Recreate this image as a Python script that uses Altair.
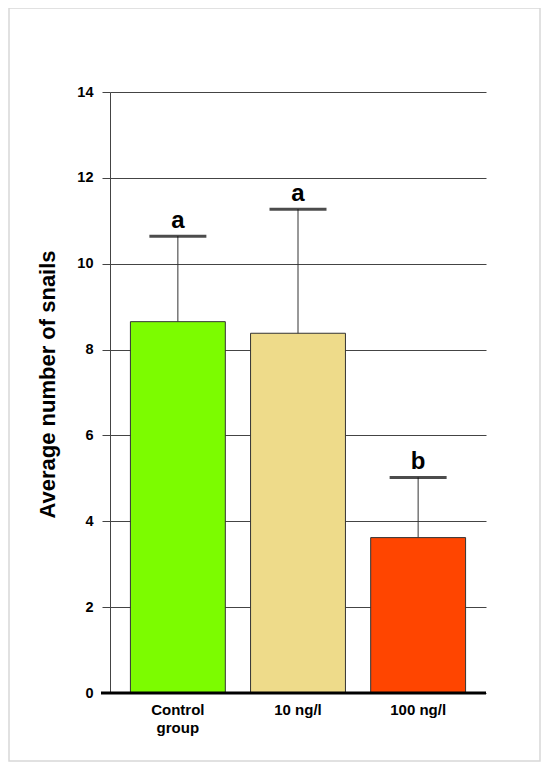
import altair as alt
import pandas as pd

categories = ["Control\ngroup", "10 ng/l", "100 ng/l"]
means = [8.65, 8.38, 3.62]
uppers = [10.64, 11.27, 5.02]
letters = ["a", "a", "b"]
colors = ["#7CFC00", "#EEDB8A", "#FF4500"]

df = pd.DataFrame({"group": categories, "mean": means, "upper": uppers, "letter": letters})

W, H = 376, 601
FONT = "Liberation Sans"

x = alt.X("group:N", sort=categories, title=None,
          scale=alt.Scale(paddingInner=0.21, paddingOuter=0.17),
          axis=alt.Axis(domain=False, ticks=False, labelAngle=0,
                        labelFont=FONT, labelFontSize=15, labelFontWeight="bold",
                        labelColor="black", labelPadding=9, labelLineHeight=18,
                        labelExpr="split(datum.label, '\\n')"))

y_scale = alt.Scale(domain=[0, 14], nice=False)

base = alt.Chart(df)

bars = base.mark_bar(stroke="#333333", strokeWidth=1).encode(
    x=x,
    y=alt.Y("mean:Q", scale=y_scale, title="Average number of snails",
            axis=alt.Axis(values=[0, 2, 4, 6, 8, 10, 12, 14], format="d",
                          grid=True, gridColor="#444444", gridWidth=1,
                          domainColor="#444444", domainWidth=1,
                          tickColor="#444444", tickSize=8, tickWidth=1,
                          labelFont=FONT, labelFontSize=14.5, labelFontWeight="bold",
                          labelColor="black", labelPadding=9,
                          titleFont=FONT, titleFontSize=22, titleFontWeight="bold",
                          titleColor="black", titleX=-51, titleY=292,
                          titleBaseline="bottom")),
    color=alt.Color("group:N", sort=categories,
                    scale=alt.Scale(domain=categories, range=colors), legend=None),
)

err = base.mark_rule(color="#333333", strokeWidth=1).encode(
    x=alt.X("group:N", sort=categories),
    y="mean:Q",
    y2="upper:Q",
)

caps = base.mark_tick(color="black", size=57, thickness=3, orient="horizontal").encode(
    x=alt.X("group:N", sort=categories),
    y="upper:Q",
)

labels = base.mark_text(font=FONT, fontSize=24, fontWeight="bold", color="black",
                        baseline="alphabetic", dy=-8).encode(
    x=alt.X("group:N", sort=categories),
    y="upper:Q",
    text="letter:N",
)

one = pd.DataFrame({"k": [0]})

baseline_rule = alt.Chart(one).mark_rule(color="black", strokeWidth=3).encode(
    y=alt.datum(0), x=alt.value(-9), x2=alt.value(W)
)

border = alt.Chart(one).mark_rect(fill=None, stroke="#d8d8d8", strokeWidth=1.5).encode(
    x=alt.value(-101), x2=alt.value(430), y=alt.value(-84), y2=alt.value(669)
)

chart = alt.layer(border, bars, err, caps, labels, baseline_rule).properties(
    width=W, height=H,
    autosize=alt.AutoSizeParams(type="none"),
    padding={"left": 102, "top": 84, "right": 56, "bottom": 70},
    background="white",
).configure_view(stroke=None)

chart.save("out.html", embed_options={"renderer": "svg", "actions": False})
